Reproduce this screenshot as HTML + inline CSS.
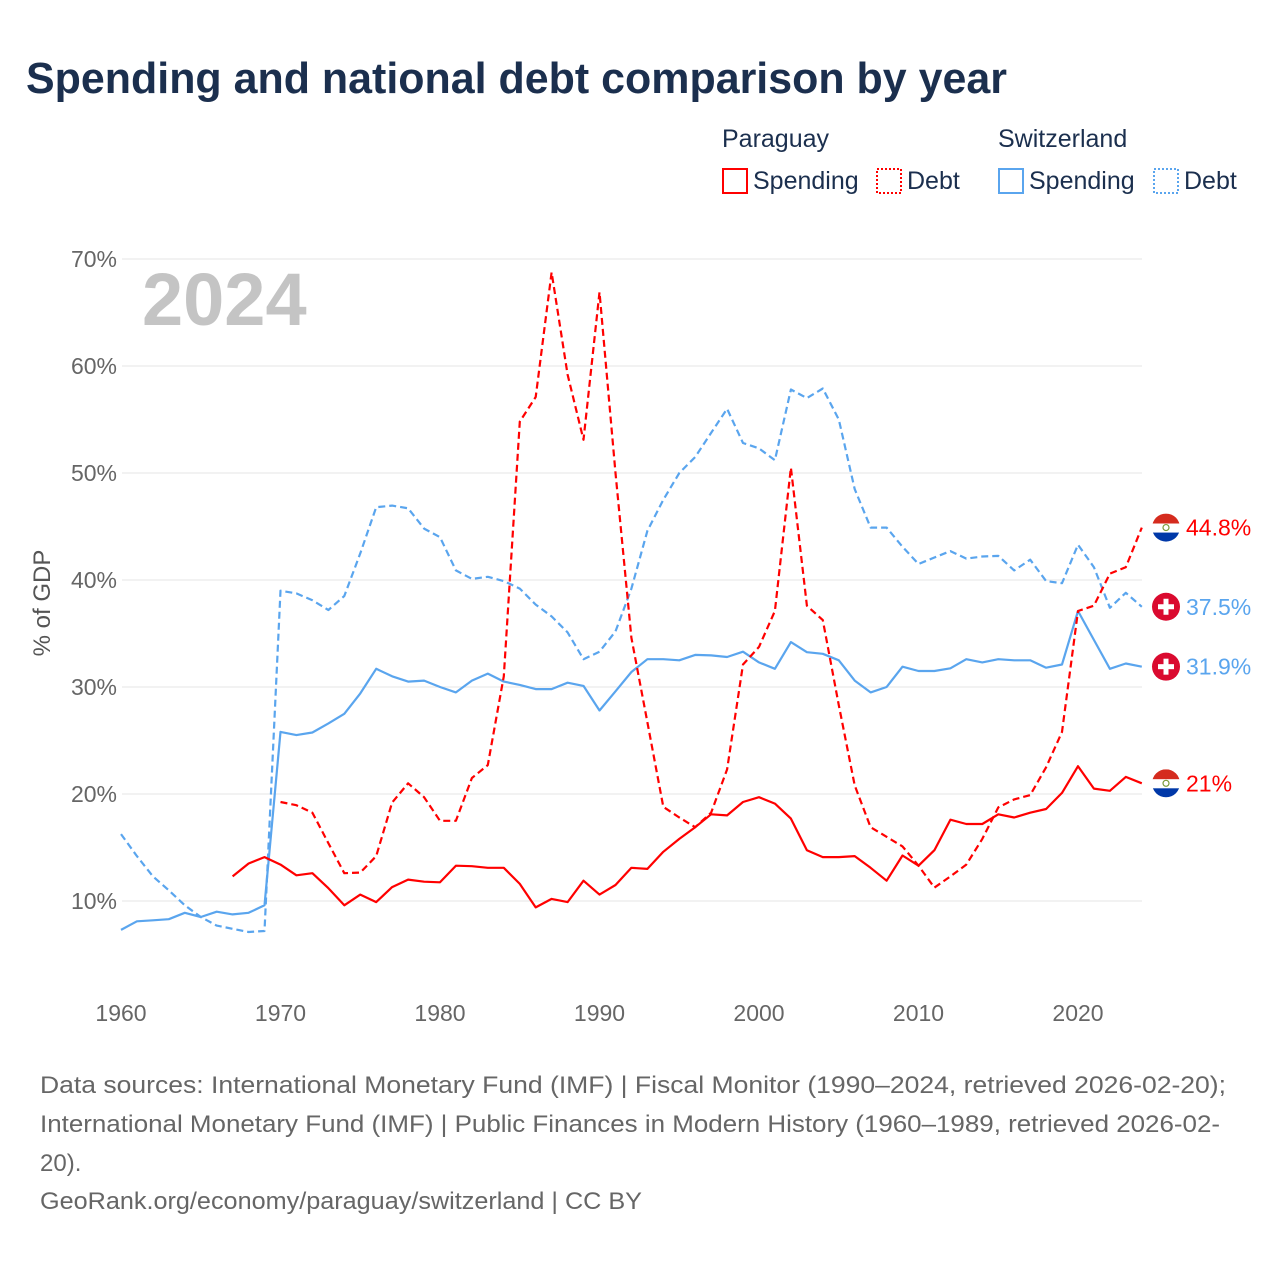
<!DOCTYPE html>
<html><head><meta charset="utf-8"><style>
html,body{margin:0;padding:0;background:#fff;}
svg{display:block;font-family:"Liberation Sans",sans-serif;}
</style></head><body>
<svg id="chart" width="1280" height="1280" viewBox="0 0 1280 1280" xmlns="http://www.w3.org/2000/svg">
<text x="26" y="93" font-size="44" font-weight="bold" fill="#1b2f4e" textLength="981" lengthAdjust="spacingAndGlyphs">Spending and national debt comparison by year</text>
<g font-size="25" fill="#1b2f4e">
<text x="722" y="147">Paraguay</text>
<text x="998" y="147">Switzerland</text>
<g><rect x="723" y="169" width="24" height="24" fill="none" stroke="#f00" stroke-width="2"/><text x="753" y="189">Spending</text></g>
<g><rect x="877" y="169" width="24" height="24" fill="none" stroke="#f00" stroke-width="2" stroke-dasharray="2,2"/><text x="907" y="189">Debt</text></g>
<g><rect x="999" y="169" width="24" height="24" fill="none" stroke="#5aa5ee" stroke-width="2"/><text x="1029" y="189">Spending</text></g>
<g><rect x="1154" y="169" width="24" height="24" fill="none" stroke="#5aa5ee" stroke-width="2" stroke-dasharray="2,2"/><text x="1184" y="189">Debt</text></g>
</g>
<g id="grid"></g>
<text x="142" y="325" font-size="74" font-weight="bold" fill="#c4c4c4">2024</text>
<text transform="translate(50,603) rotate(-90)" text-anchor="middle" font-size="24" fill="#555">% of GDP</text>
<g id="series"></g>
<g id="ends"></g>
<g font-size="24" fill="#666">
<text x="40" y="1093" textLength="1186" lengthAdjust="spacingAndGlyphs">Data sources: International Monetary Fund (IMF) | Fiscal Monitor (1990–2024, retrieved 2026-02-20);</text>
<text x="40" y="1132" textLength="1180" lengthAdjust="spacingAndGlyphs">International Monetary Fund (IMF) | Public Finances in Modern History (1960–1989, retrieved 2026-02-</text>
<text x="40" y="1171">20).</text>
<text x="40" y="1209" textLength="602" lengthAdjust="spacingAndGlyphs">GeoRank.org/economy/paraguay/switzerland | CC BY</text>
</g>
</svg>
<script>
const years = Array.from({length:65},(_, i)=>1960+i);
const chSpending = [7.3,8.1,8.2,8.3,8.9,8.5,9.0,8.75,8.9,9.6,25.8,25.5,25.75,26.6,27.5,29.4,31.7,31.0,30.5,30.6,30.0,29.5,30.6,31.25,30.5,30.2,29.8,29.8,30.4,30.1,27.8,29.6,31.4,32.6,32.6,32.5,33.0,32.95,32.8,33.3,32.3,31.7,34.2,33.25,33.1,32.5,30.6,29.5,30.0,31.9,31.5,31.5,31.75,32.6,32.3,32.6,32.5,32.5,31.8,32.1,37.1,34.4,31.7,32.2,31.9];
const chDebt = [16.25,14.2,12.3,11.0,9.6,8.5,7.7,7.4,7.1,7.2,39.0,38.75,38.1,37.2,38.5,42.5,46.8,46.95,46.7,44.8,44.0,40.9,40.1,40.3,39.9,39.2,37.7,36.6,35.1,32.6,33.3,35.2,39.2,44.6,47.5,50.0,51.5,53.75,56.0,52.8,52.3,51.2,57.8,57.0,57.9,55.0,48.5,44.9,44.9,43.1,41.5,42.1,42.7,42.0,42.2,42.25,40.9,41.9,39.9,39.7,43.3,41.2,37.4,38.8,37.5];
const pySpending = [null,null,null,null,null,null,null,12.3,13.5,14.1,13.4,12.4,12.6,11.2,9.6,10.6,9.9,11.3,12.0,11.8,11.75,13.3,13.25,13.1,13.1,11.6,9.4,10.2,9.9,11.9,10.6,11.5,13.1,13.0,14.6,15.8,16.9,18.1,18.0,19.25,19.7,19.1,17.7,14.75,14.1,14.1,14.2,13.1,11.9,14.25,13.3,14.75,17.6,17.2,17.2,18.1,17.8,18.25,18.6,20.1,22.6,20.5,20.3,21.6,21.0];
const pyDebt = [null,null,null,null,null,null,null,null,null,null,19.25,18.95,18.25,15.4,12.6,12.65,14.2,19.2,21.0,19.7,17.5,17.5,21.5,22.7,31.0,54.8,57.1,68.75,59.2,53.1,66.9,50.0,34.6,26.7,18.8,17.8,16.9,18.25,22.3,32.1,33.75,37.1,50.5,37.6,36.25,28.3,20.8,16.9,16.0,15.1,13.3,11.25,12.3,13.4,15.8,18.75,19.5,19.9,22.5,25.8,37.1,37.6,40.6,41.2,44.9];
const endLabels = ["44.8%","37.5%","31.9%","21%"];
const yTicks = [10,20,30,40,50,60,70];
const xTicks = [1960,1970,1980,1990,2000,2010,2020];

const NS="http://www.w3.org/2000/svg";
const xs = y => 121 + (y-1960)*15.95;
const ys = v => 901 - (v-10)*10.7;
function mk(tag, attrs, parent){const e=document.createElementNS(NS,tag);for(const k in attrs)e.setAttribute(k,attrs[k]);parent.appendChild(e);return e;}
const grid=document.getElementById('grid');
yTicks.forEach(t=>{
  const l=mk('line',{x1:122,x2:1142,y1:ys(t),y2:ys(t),stroke:'#e6e6e6','stroke-width':1},grid);
  
  
  const tx=mk('text',{x:117,y:ys(t)+8,'text-anchor':'end','font-size':23,fill:'#666'},grid);
  tx.textContent=t+'%';
  
  
});
xTicks.forEach(t=>{
  const tx=mk('text',{x:xs(t),y:1021,'text-anchor':'middle','font-size':23,fill:'#666'},grid);
  tx.textContent=t;
  
  
});
const ser=document.getElementById('series');
function line(vals,color,dash,name){
  let d='',pen=false;
  vals.forEach((v,i)=>{ if(v==null){pen=false;return;} d+=(pen?'L':'M')+xs(years[i]).toFixed(1)+','+ys(v).toFixed(1); pen=true;});
  const p=mk('path',{d:d,fill:'none',stroke:color,'stroke-width':2.2,'stroke-linejoin':'round'},ser);
  if(dash)p.setAttribute('stroke-dasharray',dash);
  
  
}
line(chDebt,'#5aa5ee','7,4','line-switzerland-debt');
line(chSpending,'#5aa5ee',null,'line-switzerland-spending');
line(pyDebt,'#f00','7,4','line-paraguay-debt');
line(pySpending,'#f00',null,'line-paraguay-spending');

const ends=document.getElementById('ends');
const endVals=[pyDebt[64],chDebt[64],chSpending[64],pySpending[64]];
const endFlags=['py','ch','ch','py'];
const endColors=['#f00','#5aa5ee','#5aa5ee','#f00'];
endVals.forEach((v,i)=>{
  const cy=ys(v), cx=1166;
  const g=mk('g',{},ends);
  
  
  if(endFlags[i]==='py'){
    const id='clip'+i;
    const cp=mk('clipPath',{id:id},g); mk('circle',{cx:cx,cy:cy,r:14},cp);
    const fg=mk('g',{'clip-path':'url(#'+id+')'},g);
    mk('rect',{x:cx-14,y:cy-14,width:28,height:10,fill:'#d52b1e'},fg);
    mk('rect',{x:cx-14,y:cy-4,width:28,height:9,fill:'#fff'},fg);
    mk('rect',{x:cx-14,y:cy+5,width:28,height:10,fill:'#0038a8'},fg);
    mk('circle',{cx:cx,cy:cy,r:3,fill:'none',stroke:'#7a9a3a','stroke-width':1.2},g);
  } else {
    mk('circle',{cx:cx,cy:cy,r:14,fill:'#da0a2f'},g);
    mk('rect',{x:cx-2.5,y:cy-8,width:5,height:16,fill:'#fff'},g);
    mk('rect',{x:cx-8,y:cy-2.5,width:16,height:5,fill:'#fff'},g);
  }
  const t=mk('text',{x:1186,y:cy+8,'font-size':23,fill:endColors[i]},g);
  t.textContent=endLabels[i];
});
</script>
</body></html>
